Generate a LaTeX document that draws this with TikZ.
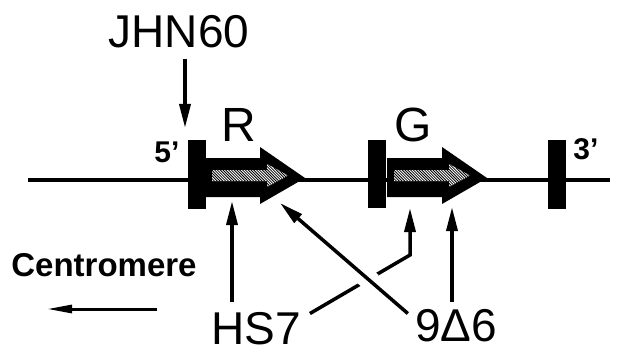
\documentclass[tikz,border=0pt]{standalone}
\usepackage{fontspec}
\setmainfont{Liberation Sans}
\usetikzlibrary{arrows.meta,calc}
\newcommand{\geneBlock}[3]{\fill (#2,140) rectangle ++(18,#3); \coordinate (#1) at (#2,140);}
\newcommand{\geneArrow}[2]{\fill (#2,158) -- ++(55,0) -- ++(0,-11) -- ++(45,31) -- ++(-45,26) -- ++(0,-7) -- ++(-55,0) -- cycle;
	\begin{scope}
		\clip (#2+7,170) -- ++(55,0) -- ++(0,-6) -- ++(21,11.5) -- ++(-21,11.5) -- ++(0,-6) -- ++(-55,0) -- cycle;
		\fill[white] (#2,160) rectangle ++(90,30);
		\foreach \k in {0,...,40} \draw[line width=0.8pt] (#2-20+\k*2.8,160) -- ++(30,30);
	\end{scope}
	\coordinate (#1) at (#2+100,178);}

\begin{document}
\begin{tikzpicture}[x=1pt,y=-1pt,
	lbl/.style={inner sep=0pt,font=\fontsize{46}{46}\selectfont},
	tag/.style={inner sep=0pt,font=\fontsize{30}{30}\selectfont\bfseries},
	ptr/.style={line width=3.5pt,-{Triangle[length=24pt,width=11pt]}},
	thinptr/.style={line width=3pt,-{Triangle[length=25pt,width=8pt]}}]
	\useasboundingbox (0,0) rectangle (627,353);
	\draw[line width=4pt] (28,180) -- (610,180);
	\geneBlock{fiveEnd}{188}{69} \geneBlock{midEnd}{368}{68} \geneBlock{threeEnd}{548}{69}
	\geneArrow{rTip0}{205} \geneArrow{gTip0}{387}
	\node[lbl] (jhn) at (179,32) {JHN60};
	\node[lbl,font=\fontsize{48}{48}\selectfont] (r) at (239,125) {R};
	\node[lbl,font=\fontsize{48}{48}\selectfont] (g) at (413,125) {G};
	\node[tag] (five) at (167,152) {5’};
	\node[tag] (three) at (586,149) {3’};
	\node[lbl] (hs) at (256,329) {HS7};
	\node[lbl] (nd) at (456,326) {9Δ6};
	\node[inner sep=0pt,font=\fontsize{33}{33}\selectfont\bfseries] (cen) at (104,265) {Centromere};
	\coordinate (jhnTip) at (185,128);
	\coordinate (hsTip) at (232,201);
	\coordinate (rTip) at (280,203);
	\coordinate (bend) at (410,255);
	\coordinate (gTip) at (410,208);
	\coordinate (ndTip) at (452,207);
	\coordinate (ndStart) at ($(nd.north west)+(-7,4)$);
	\coordinate (cenTail) at (157,309);
	\coordinate (cenTip) at (47,309);
	\draw[ptr,shorten <=11pt] (jhn.south -| jhnTip) -- (jhnTip);
	\draw[ptr,shorten <=11pt] (hs.north -| hsTip) -- (hsTip);
	\draw[ptr] ($(hs.north east)+(9,1)$) -- (bend) -- (gTip);
	\draw[white,line width=20pt] ($(ndStart)!0.28!(rTip)$) -- ($(ndStart)!0.36!(rTip)$);
	\draw[ptr] (ndStart) -- (rTip);
	\draw[ptr,shorten <=8pt] (nd.north -| ndTip) -- (ndTip);
	\draw[thinptr] (cenTail) -- (cenTip);
\end{tikzpicture}
\end{document}
